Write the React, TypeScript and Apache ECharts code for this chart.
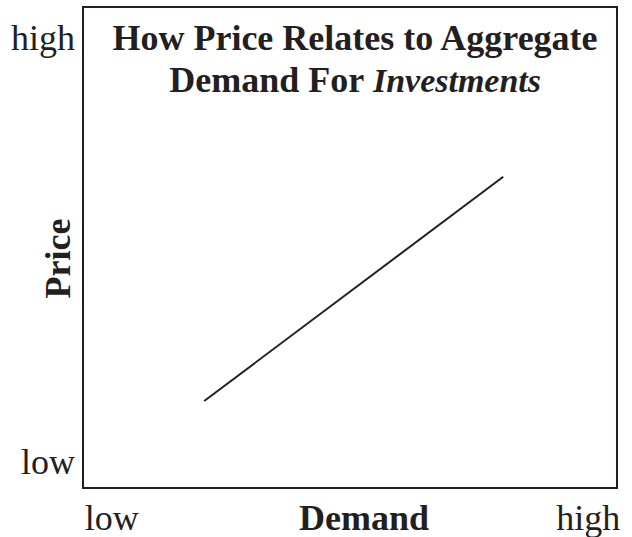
import React, { useEffect, useRef } from "react";
import * as echarts from "echarts";

const demand = [22.7, 78.7];
const price = [18.1, 64.7];
const xTickLabels = ["low", "high"];
const xTickValues = [5.4, 94.6];
const yTickLabels = ["low", "high"];
const yTickValues = [5.4, 93.6];

const INK = "#231f20";
const FONT = "'Liberation Serif', 'Times New Roman', serif";
const FS = 36;

export default function App() {
  const ref = useRef<HTMLDivElement>(null);
  useEffect(() => {
    if (!ref.current) return;
    const chart = echarts.init(ref.current, null, { renderer: "svg" });
    chart.setOption({
      animation: false,
      backgroundColor: "#ffffff",
      title: {
        left: 350,
        top: 12,
        textAlign: "center",
        text: "{b|How Price Relates to Aggregate}\n{b|Demand For }{i|Investments}",
        textStyle: {
          rich: {
            b: { fontFamily: FONT, fontWeight: "bold", fontSize: FS, color: INK, lineHeight: 42 },
            i: { fontFamily: FONT, fontStyle: "italic", fontSize: 34, color: INK, lineHeight: 42 },
          },
        },
      },
      grid: {
        left: 83,
        right: 15,
        top: 7,
        bottom: 49,
        outerBoundsMode: "none",
        containLabel: false,
        show: true,
        borderColor: INK,
        borderWidth: 2,
        backgroundColor: "transparent",
      },
      xAxis: {
        type: "value",
        min: 0,
        max: 100,
        axisLine: { show: false },
        axisTick: { show: false },
        splitLine: { show: false },
        axisLabel: {
          customValues: xTickValues,
          formatter: (v: number) => xTickLabels[xTickValues.indexOf(v)] ?? "",
          fontFamily: FONT,
          fontSize: FS,
          color: INK,
          margin: 12,
        },
        name: "Demand",
        nameLocation: "middle",
        nameGap: 12,
        nameMoveOverlap: false,
        nameTextStyle: {
          fontFamily: FONT,
          fontWeight: "bold",
          fontSize: FS,
          color: INK,
          padding: [0, 0, 0, 28],
        },
      },
      yAxis: {
        type: "value",
        min: 0,
        max: 100,
        axisLine: { show: false },
        axisTick: { show: false },
        splitLine: { show: false },
        axisLabel: {
          customValues: yTickValues,
          formatter: (v: number) => yTickLabels[yTickValues.indexOf(v)] ?? "",
          fontFamily: FONT,
          fontSize: FS,
          color: INK,
          margin: 8,
        },
        name: "Price",
        nameLocation: "middle",
        nameGap: 7,
        nameMoveOverlap: false,
        nameTextStyle: {
          fontFamily: FONT,
          fontWeight: "bold",
          fontSize: FS,
          color: INK,
          padding: [0, 22, 0, 0],
        },
      },
      series: [
        {
          type: "line",
          data: demand.map((d, i) => [d, price[i]]),
          showSymbol: false,
          lineStyle: { color: INK, width: 2 },
        },
      ],
    });
    return () => chart.dispose();
  }, []);
  return <div ref={ref} style={{ width: 632, height: 537, position: "absolute", left: 0, top: 0 }} />;
}
